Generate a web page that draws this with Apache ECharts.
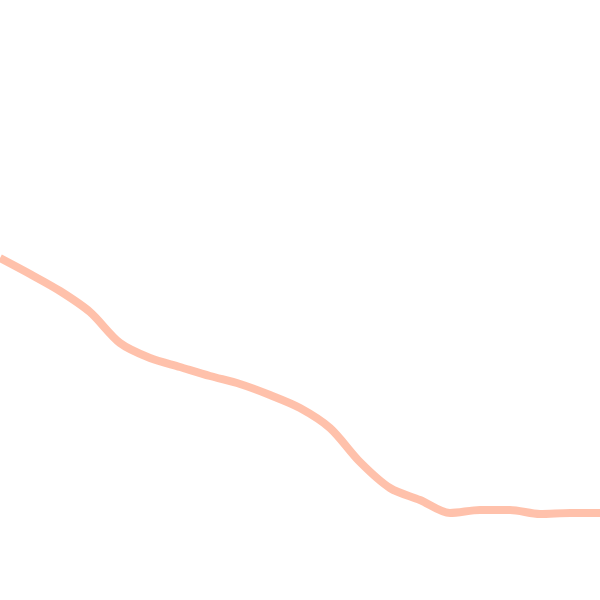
<!DOCTYPE html>
<html>
<head>
<meta charset="utf-8">
<script src="https://cdn.jsdelivr.net/npm/echarts@6/dist/echarts.min.js"></script>
<style>html,body{margin:0;padding:0;background:#fff}#c{width:600px;height:600px}</style>
</head>
<body>
<div id="c"></div>
<script>
const categories = ['0','1','2','3','4','5','6','7','8','9','10','11','12','13','14','15','16','17','18','19','20'];
const values = [342, 326, 309, 288, 257, 242, 233, 224, 216, 205, 192, 172, 138, 112, 100, 87, 90, 90, 86, 87, 87];

const chart = echarts.init(document.getElementById('c'));
chart.setOption({
  animation: false,
  grid: { left: 0, right: 0, top: 0, bottom: 0 },
  xAxis: { type: 'category', data: categories, boundaryGap: false, show: false },
  yAxis: { type: 'value', min: 0, max: 600, show: false },
  series: [{
    type: 'line',
    data: values,
    smooth: 0.3,
    symbol: 'none',
    lineStyle: { color: '#ffbea6', width: 8, opacity: 0.95 }
  }]
});
</script>
</body>
</html>
